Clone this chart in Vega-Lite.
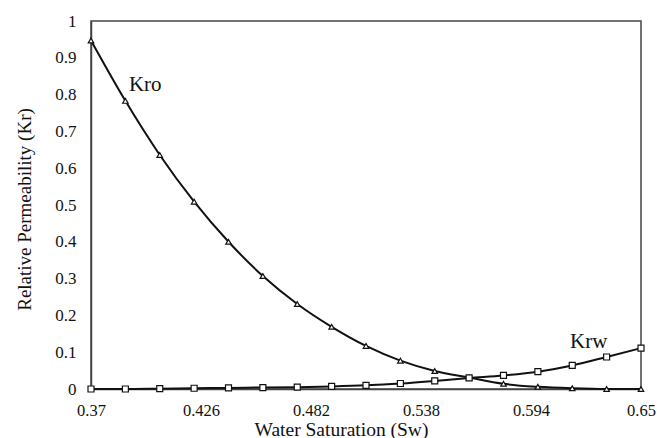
{
  "$schema": "https://vega.github.io/schema/vega-lite/v6.json",
  "width": 550,
  "height": 368,
  "autosize": {"type": "none"},
  "padding": {"left": 91, "top": 21, "right": 16, "bottom": 49},
  "background": "white",
  "config": {
    "font": "serif",
    "view": {"stroke": "#444", "strokeWidth": 1.5},
    "style": {
      "guide-label": {"font": "Liberation Serif, Times New Roman, serif"},
      "guide-title": {"font": "Liberation Serif, Times New Roman, serif"}
    }
  },
  "datasets": {
    "curves": [
      {"sw": 0.37, "kr": 0.947, "series": "Kro"},
      {"sw": 0.3875, "kr": 0.783, "series": "Kro"},
      {"sw": 0.405, "kr": 0.636, "series": "Kro"},
      {"sw": 0.4225, "kr": 0.509, "series": "Kro"},
      {"sw": 0.44, "kr": 0.4, "series": "Kro"},
      {"sw": 0.4575, "kr": 0.307, "series": "Kro"},
      {"sw": 0.475, "kr": 0.231, "series": "Kro"},
      {"sw": 0.4925, "kr": 0.169, "series": "Kro"},
      {"sw": 0.51, "kr": 0.117, "series": "Kro"},
      {"sw": 0.5275, "kr": 0.077, "series": "Kro"},
      {"sw": 0.545, "kr": 0.049, "series": "Kro"},
      {"sw": 0.5625, "kr": 0.031, "series": "Kro"},
      {"sw": 0.58, "kr": 0.014, "series": "Kro"},
      {"sw": 0.5975, "kr": 0.006, "series": "Kro"},
      {"sw": 0.615, "kr": 0.002, "series": "Kro"},
      {"sw": 0.6325, "kr": 0.0, "series": "Kro"},
      {"sw": 0.65, "kr": 0.0, "series": "Kro"},
      {"sw": 0.37, "kr": 0.0, "series": "Krw"},
      {"sw": 0.3875, "kr": 0.0, "series": "Krw"},
      {"sw": 0.405, "kr": 0.001, "series": "Krw"},
      {"sw": 0.4225, "kr": 0.002, "series": "Krw"},
      {"sw": 0.44, "kr": 0.003, "series": "Krw"},
      {"sw": 0.4575, "kr": 0.004, "series": "Krw"},
      {"sw": 0.475, "kr": 0.005, "series": "Krw"},
      {"sw": 0.4925, "kr": 0.007, "series": "Krw"},
      {"sw": 0.51, "kr": 0.01, "series": "Krw"},
      {"sw": 0.5275, "kr": 0.015, "series": "Krw"},
      {"sw": 0.545, "kr": 0.022, "series": "Krw"},
      {"sw": 0.5625, "kr": 0.03, "series": "Krw"},
      {"sw": 0.58, "kr": 0.037, "series": "Krw"},
      {"sw": 0.5975, "kr": 0.047, "series": "Krw"},
      {"sw": 0.615, "kr": 0.064, "series": "Krw"},
      {"sw": 0.6325, "kr": 0.087, "series": "Krw"},
      {"sw": 0.65, "kr": 0.111, "series": "Krw"}
    ],
    "labels": [
      {"sw": 0.3893, "kr": 0.81, "label": "Kro"},
      {"sw": 0.6139, "kr": 0.111, "label": "Krw"}
    ]
  },
  "encoding": {
    "x": {
      "field": "sw",
      "type": "quantitative",
      "scale": {"domain": [0.37, 0.65], "nice": false, "zero": false},
      "axis": {
        "values": [0.37, 0.426, 0.482, 0.538, 0.594, 0.65],
        "format": ".3~f",
        "grid": false,
        "ticks": false,
        "tickSize": 0,
        "domainColor": "#444",
        "domainWidth": 1.5,
        "labelColor": "#111",
        "labelFont": "Liberation Serif, Times New Roman, serif",
        "labelFontSize": 16.5,
        "labelPadding": 13,
        "labelFlush": false,
        "title": "Water Saturation (Sw)",
        "titleColor": "#111",
        "titleFont": "Liberation Serif, Times New Roman, serif",
        "titleFontSize": 19.5,
        "titleFontWeight": "normal",
        "titleX": 250,
        "titleY": 46,
        "titleBaseline": "alphabetic",
        "titleAlign": "center"
      }
    },
    "y": {
      "field": "kr",
      "type": "quantitative",
      "scale": {"domain": [0, 1], "nice": false},
      "axis": {
        "values": [0, 0.1, 0.2, 0.3, 0.4, 0.5, 0.6, 0.7, 0.8, 0.9, 1],
        "format": ".2~f",
        "grid": false,
        "ticks": false,
        "tickSize": 0,
        "domainColor": "#444",
        "domainWidth": 1.5,
        "labelColor": "#111",
        "labelFont": "Liberation Serif, Times New Roman, serif",
        "labelFontSize": 17,
        "labelPadding": 15,
        "labelFlush": false,
        "title": "Relative Permeability (Kr)",
        "titleColor": "#111",
        "titleFont": "Liberation Serif, Times New Roman, serif",
        "titleFontSize": 19,
        "titleFontWeight": "normal",
        "titleAngle": -90,
        "titleX": -61,
        "titleY": 188,
        "titleBaseline": "alphabetic",
        "titleAlign": "center"
      }
    }
  },
  "layer": [
    {
      "data": {"name": "curves"},
      "mark": {"type": "line", "interpolate": "monotone", "strokeWidth": 2, "color": "#111"},
      "encoding": {"detail": {"field": "series"}}
    },
    {
      "data": {"name": "curves"},
      "mark": {"type": "point", "filled": true, "fill": "white", "stroke": "#111", "strokeWidth": 1.2, "opacity": 1},
      "encoding": {
        "shape": {
          "field": "series",
          "type": "nominal",
          "scale": {"domain": ["Kro", "Krw"], "range": ["triangle-up", "square"]},
          "legend": null
        },
        "size": {
          "field": "series",
          "type": "nominal",
          "scale": {"domain": ["Kro", "Krw"], "range": [30, 36]},
          "legend": null
        }
      }
    },
    {
      "data": {"name": "labels"},
      "mark": {"type": "text", "font": "Liberation Serif", "fontSize": 21, "align": "left", "baseline": "alphabetic", "color": "#111"},
      "encoding": {"text": {"field": "label"}}
    }
  ]
}
